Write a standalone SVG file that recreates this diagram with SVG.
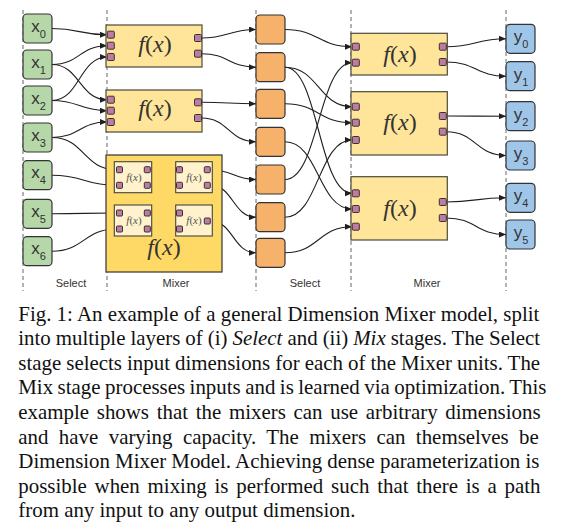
<svg xmlns="http://www.w3.org/2000/svg" width="575" height="530" viewBox="0 0 575 530">
<style>
.dash{stroke:#666;stroke-width:1;stroke-dasharray:4 3;fill:none}
.in{fill:#b6d7a8;stroke:#333;stroke-width:1.2}
.sel{fill:#f6b26b;stroke:#333;stroke-width:1.2}
.out{fill:#9fc5e8;stroke:#333;stroke-width:1.2}
.mix{fill:#ffe599;stroke:#4a4a3a;stroke-width:1.2}
.big{fill:#ffd966;stroke:#333;stroke-width:1.2}
.inner{fill:#fff2cc;stroke:#444;stroke-width:1.1}
.port{fill:#c27ba0;stroke:#333;stroke-width:1}
.lbl{font-family:"Liberation Sans",Arial,sans-serif;font-size:17px;fill:#333;text-anchor:middle}
.sub{font-size:11px}
.stage{font-family:"Liberation Sans",Arial,sans-serif;font-size:11px;fill:#333;text-anchor:middle}
.fx{font-family:"Liberation Serif","Times New Roman",serif;font-size:24px;fill:#333;text-anchor:middle}
.fxs{font-family:"Liberation Serif","Times New Roman",serif;font-size:11px;fill:#555;text-anchor:middle}
.it{font-style:italic}
.edge{fill:none;stroke:#1f1f1f;stroke-width:1.1;marker-end:url(#arr)}
.link{fill:none;stroke:#555;stroke-width:1.2}
.cap{font-family:"Liberation Serif","Times New Roman",serif;font-size:20.9px;fill:#111}
</style>
<defs>
<marker id="arr" markerUnits="userSpaceOnUse" markerWidth="7" markerHeight="6" refX="7" refY="3" orient="auto">
<path d="M0,0 L7,3 L0,6 Z" fill="#1f1f1f"/>
</marker>
</defs>

<g id="guides">
<line class="dash" x1="23" y1="10" x2="23" y2="291"/>
<line class="dash" x1="107" y1="10" x2="107" y2="291"/>
<line class="dash" x1="256" y1="10" x2="256" y2="291"/>
<line class="dash" x1="351" y1="10" x2="351" y2="291"/>
<line class="dash" x1="506" y1="10" x2="506" y2="291"/>
</g>

<g id="stage-labels">
<text class="stage" x="71" y="286.5">Select</text>
<text class="stage" x="176" y="286.5">Mixer</text>
<text class="stage" x="305" y="286.5">Select</text>
<text class="stage" x="427" y="286.5">Mixer</text>
</g>

<g id="connectors">
<!-- inputs to first mixers -->
<path class="edge" d="M52,28.5 C79.5,28.5 79.5,34.7 107,34.7"/>
<path class="edge" d="M52,64.5 C79.5,64.5 79.5,45.7 107,45.7"/>
<path class="edge" d="M52,64.5 C79.5,64.5 79.5,99.7 107,99.7"/>
<path class="edge" d="M52,100.5 C79.5,100.5 79.5,57 107,57"/>
<path class="edge" d="M52,100.5 C79.5,100.5 79.5,110.7 107,110.7"/>
<path class="edge" d="M52,137.5 C79.5,137.5 79.5,122 107,122"/>
<path class="edge" d="M52,137.5 C84,137.5 84,169.7 116,169.7"/>
<path class="edge" d="M52,175.2 C84,175.2 84,185.3 116,185.3"/>
<path class="edge" d="M52,213.8 C84,213.8 84,213 116,213"/>
<path class="edge" d="M52,251.2 C84,251.2 84,229 116,229"/>
<!-- inner mixer links -->
<path class="link" d="M150.3,169.7 L176.5,169.7"/>
<path class="link" d="M150.3,185.3 C163.4,185.3 163.4,213 176.5,213"/>
<path class="link" d="M150.3,213 C163.4,213 163.4,185.3 176.5,185.3"/>
<path class="link" d="M150.3,229 L176.5,229"/>
<!-- first mixers to select -->
<path class="edge" d="M201.5,38 C228.7,38 228.7,29.5 256,29.5"/>
<path class="edge" d="M201.5,53.7 C228.7,53.7 228.7,67.2 256,67.2"/>
<path class="edge" d="M201.5,102.3 C228.7,102.3 228.7,103.8 256,103.8"/>
<path class="edge" d="M201.5,118 C228.7,118 228.7,141.8 256,141.8"/>
<path class="edge" d="M210.3,169.7 C233.1,169.7 233.1,179.5 256,179.5"/>
<path class="edge" d="M210.3,185.3 C233.1,185.3 233.1,217.2 256,217.2"/>
<path class="edge" d="M210.3,221 C233.1,221 233.1,252.8 256,252.8"/>
<!-- select to second mixers -->
<path class="edge" d="M285,29.5 C318.5,29.5 318.5,46.7 352,46.7"/>
<path class="edge" d="M285,67.2 C318.5,67.2 318.5,106.7 352,106.7"/>
<path class="edge" d="M285,67.2 C318.5,67.2 318.5,193.3 352,193.3"/>
<path class="edge" d="M285,103.8 C318.5,103.8 318.5,122.7 352,122.7"/>
<path class="edge" d="M285,141.8 C318.5,141.8 318.5,209 352,209"/>
<path class="edge" d="M285,179.5 C318.5,179.5 318.5,62.7 352,62.7"/>
<path class="edge" d="M285,217.2 C318.5,217.2 318.5,140 352,140"/>
<path class="edge" d="M285,252.8 C318.5,252.8 318.5,226.7 352,226.7"/>
<!-- second mixers to outputs -->
<path class="edge" d="M446.3,46.7 C476,46.7 476,38.8 506,38.8"/>
<path class="edge" d="M446.3,62 C476,62 476,76.2 506,76.2"/>
<path class="edge" d="M446.3,116 C476,116 476,116.2 506,116.2"/>
<path class="edge" d="M446.3,131.7 C476,131.7 476,155.5 506,155.5"/>
<path class="edge" d="M446.3,202 C476,202 476,197.8 506,197.8"/>
<path class="edge" d="M446.3,218 C476,218 476,234.5 506,234.5"/>
</g>

<g id="x0"><rect class="in" x="23" y="14" width="29" height="29" rx="4"/><text class="lbl" x="38.5" y="31.7">x<tspan class="sub" dy="6">0</tspan></text></g>
<g id="x1"><rect class="in" x="23" y="50" width="29" height="29" rx="4"/><text class="lbl" x="38.5" y="67.7">x<tspan class="sub" dy="6">1</tspan></text></g>
<g id="x2"><rect class="in" x="23" y="86" width="29" height="29" rx="4"/><text class="lbl" x="38.5" y="103.7">x<tspan class="sub" dy="6">2</tspan></text></g>
<g id="x3"><rect class="in" x="23" y="123" width="29" height="29" rx="4"/><text class="lbl" x="38.5" y="140.7">x<tspan class="sub" dy="6">3</tspan></text></g>
<g id="x4"><rect class="in" x="23" y="160.7" width="29" height="29" rx="4"/><text class="lbl" x="38.5" y="178.4">x<tspan class="sub" dy="6">4</tspan></text></g>
<g id="x5"><rect class="in" x="23" y="199.3" width="29" height="29" rx="4"/><text class="lbl" x="38.5" y="217">x<tspan class="sub" dy="6">5</tspan></text></g>
<g id="x6"><rect class="in" x="23" y="236.7" width="29" height="29" rx="4"/><text class="lbl" x="38.5" y="254.4">x<tspan class="sub" dy="6">6</tspan></text></g>

<g id="mixer1">
<rect class="mix" x="106" y="25" width="96" height="42"/>
<rect class="port" x="107.3" y="31.2" width="7" height="7" rx="1"/>
<rect class="port" x="107.3" y="42.2" width="7" height="7" rx="1"/>
<rect class="port" x="107.3" y="53.5" width="7" height="7" rx="1"/>
<rect class="port" x="194.5" y="34.5" width="7" height="7" rx="1"/>
<rect class="port" x="194.5" y="50.2" width="7" height="7" rx="1"/>
<text class="fx" x="155" y="51.7"><tspan class="it">f</tspan>(<tspan class="it">x</tspan>)</text>
</g>
<g id="mixer2">
<rect class="mix" x="106" y="90" width="96" height="42"/>
<rect class="port" x="107.3" y="96.2" width="7" height="7" rx="1"/>
<rect class="port" x="107.3" y="107.2" width="7" height="7" rx="1"/>
<rect class="port" x="107.3" y="118.5" width="7" height="7" rx="1"/>
<rect class="port" x="194.5" y="98.8" width="7" height="7" rx="1"/>
<rect class="port" x="194.5" y="114.5" width="7" height="7" rx="1"/>
<text class="fx" x="155" y="115.5"><tspan class="it">f</tspan>(<tspan class="it">x</tspan>)</text>
</g>

<g id="mixer3-nested">
<rect class="big" x="106" y="155" width="116" height="117"/>
<text class="fx" x="164" y="255"><tspan class="it">f</tspan>(<tspan class="it">x</tspan>)</text>
<g id="inner-a">
<rect class="inner" x="114.3" y="161.7" width="37.4" height="31"/>
<rect class="port" x="116.5" y="166.7" width="6" height="6" rx="1"/>
<rect class="port" x="116.5" y="182.3" width="6" height="6" rx="1"/>
<rect class="port" x="144.3" y="166.7" width="6" height="6" rx="1"/>
<rect class="port" x="144.3" y="182.3" width="6" height="6" rx="1"/>
<text class="fxs" x="134" y="181"><tspan class="it">f</tspan>(<tspan class="it">x</tspan>)</text>
</g>
<g id="inner-b">
<rect class="inner" x="175.7" y="161.7" width="36.6" height="31"/>
<rect class="port" x="176.5" y="166.7" width="6" height="6" rx="1"/>
<rect class="port" x="176.5" y="182.3" width="6" height="6" rx="1"/>
<rect class="port" x="204.3" y="166.7" width="6" height="6" rx="1"/>
<rect class="port" x="204.3" y="182.3" width="6" height="6" rx="1"/>
<text class="fxs" x="194" y="181"><tspan class="it">f</tspan>(<tspan class="it">x</tspan>)</text>
</g>
<g id="inner-c">
<rect class="inner" x="114.3" y="205" width="37.4" height="31"/>
<rect class="port" x="116.5" y="210" width="6" height="6" rx="1"/>
<rect class="port" x="116.5" y="226" width="6" height="6" rx="1"/>
<rect class="port" x="144.3" y="210" width="6" height="6" rx="1"/>
<rect class="port" x="144.3" y="226" width="6" height="6" rx="1"/>
<text class="fxs" x="134" y="224"><tspan class="it">f</tspan>(<tspan class="it">x</tspan>)</text>
</g>
<g id="inner-d">
<rect class="inner" x="175.7" y="205" width="36.6" height="31"/>
<rect class="port" x="176.5" y="210" width="6" height="6" rx="1"/>
<rect class="port" x="176.5" y="226" width="6" height="6" rx="1"/>
<rect class="port" x="204.3" y="218" width="6" height="6" rx="1"/>
<text class="fxs" x="194" y="224"><tspan class="it">f</tspan>(<tspan class="it">x</tspan>)</text>
</g>
</g>

<g id="s0"><rect class="sel" x="256" y="15" width="29" height="29" rx="4"/></g>
<g id="s1"><rect class="sel" x="256" y="52.7" width="29" height="29" rx="4"/></g>
<g id="s2"><rect class="sel" x="256" y="89.3" width="29" height="29" rx="4"/></g>
<g id="s3"><rect class="sel" x="256" y="127.3" width="29" height="29" rx="4"/></g>
<g id="s4"><rect class="sel" x="256" y="165" width="29" height="29" rx="4"/></g>
<g id="s5"><rect class="sel" x="256" y="202.7" width="29" height="29" rx="4"/></g>
<g id="s6"><rect class="sel" x="256" y="238.3" width="29" height="29" rx="4"/></g>

<g id="mixer4">
<rect class="mix" x="351" y="33.3" width="96.3" height="41.7"/>
<rect class="port" x="352.3" y="43.2" width="7" height="7" rx="1"/>
<rect class="port" x="352.3" y="59.2" width="7" height="7" rx="1"/>
<rect class="port" x="439.3" y="43.2" width="7" height="7" rx="1"/>
<rect class="port" x="439.3" y="58.5" width="7" height="7" rx="1"/>
<text class="fx" x="400" y="61.7"><tspan class="it">f</tspan>(<tspan class="it">x</tspan>)</text>
</g>
<g id="mixer5">
<rect class="mix" x="351" y="91.7" width="96.3" height="63.3"/>
<rect class="port" x="352.3" y="103.2" width="7" height="7" rx="1"/>
<rect class="port" x="352.3" y="119.2" width="7" height="7" rx="1"/>
<rect class="port" x="352.3" y="136.5" width="7" height="7" rx="1"/>
<rect class="port" x="439.3" y="112.5" width="7" height="7" rx="1"/>
<rect class="port" x="439.3" y="128.2" width="7" height="7" rx="1"/>
<text class="fx" x="400" y="130"><tspan class="it">f</tspan>(<tspan class="it">x</tspan>)</text>
</g>
<g id="mixer6">
<rect class="mix" x="351" y="176.7" width="96.3" height="63.3"/>
<rect class="port" x="352.3" y="189.8" width="7" height="7" rx="1"/>
<rect class="port" x="352.3" y="205.5" width="7" height="7" rx="1"/>
<rect class="port" x="352.3" y="223.2" width="7" height="7" rx="1"/>
<rect class="port" x="439.3" y="198.5" width="7" height="7" rx="1"/>
<rect class="port" x="439.3" y="214.5" width="7" height="7" rx="1"/>
<text class="fx" x="400" y="215.7"><tspan class="it">f</tspan>(<tspan class="it">x</tspan>)</text>
</g>

<g id="y0"><rect class="out" x="506" y="24.3" width="29" height="29" rx="4"/><text class="lbl" x="521" y="42.3">y<tspan class="sub" dy="6">0</tspan></text></g>
<g id="y1"><rect class="out" x="506" y="61.7" width="29" height="29" rx="4"/><text class="lbl" x="521" y="79.7">y<tspan class="sub" dy="6">1</tspan></text></g>
<g id="y2"><rect class="out" x="506" y="101.7" width="29" height="29" rx="4"/><text class="lbl" x="521" y="119.7">y<tspan class="sub" dy="6">2</tspan></text></g>
<g id="y3"><rect class="out" x="506" y="141" width="29" height="29" rx="4"/><text class="lbl" x="521" y="159">y<tspan class="sub" dy="6">3</tspan></text></g>
<g id="y4"><rect class="out" x="506" y="183.3" width="29" height="29" rx="4"/><text class="lbl" x="521" y="201.3">y<tspan class="sub" dy="6">4</tspan></text></g>
<g id="y5"><rect class="out" x="506" y="220" width="29" height="29" rx="4"/><text class="lbl" x="521" y="238">y<tspan class="sub" dy="6">5</tspan></text></g>

<g id="caption" class="cap">
<text x="18.3" y="320.5" style="word-spacing:0px">Fig. 1: An example of a general Dimension Mixer model, split</text>
<text x="18.3" y="345.1" style="word-spacing:-0.2px">into multiple layers of (i) <tspan class="it">Select</tspan> and (ii) <tspan class="it">Mix</tspan> stages. The Select</text>
<text x="18.3" y="369.7" style="word-spacing:-0.17px">stage selects input dimensions for each of the Mixer units. The</text>
<text x="18.3" y="394.3" style="word-spacing:-0.72px">Mix stage processes inputs and is learned via optimization. This</text>
<text x="18.3" y="418.9" style="word-spacing:2.48px">example shows that the mixers can use arbitrary dimensions</text>
<text x="18.3" y="443.5" style="word-spacing:5.17px">and have varying capacity. The mixers can themselves be</text>
<text x="18.3" y="468.1" style="word-spacing:-0.08px">Dimension Mixer Model. Achieving dense parameterization is</text>
<text x="18.3" y="492.7" style="word-spacing:2.56px">possible when mixing is performed such that there is a path</text>
<text x="18.3" y="517.3">from any input to any output dimension.</text>
</g>
</svg>
